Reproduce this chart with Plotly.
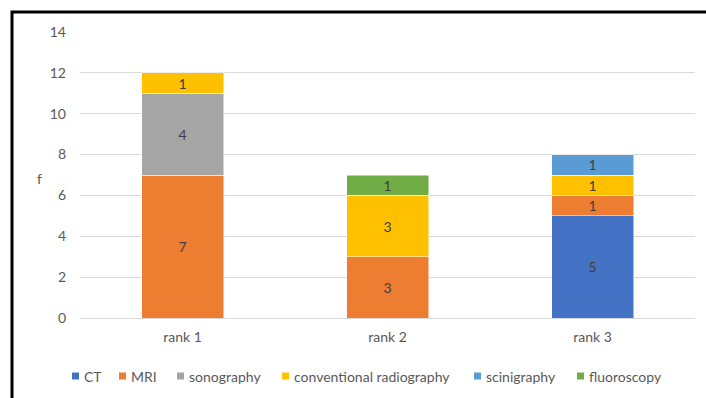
import plotly.graph_objects as go

# Ranking frequencies per imaging modality
ranks = ["rank 1", "rank 2", "rank 3"]
ct = [None, None, 5]
mri = [7, 3, 1]
sonography = [4, None, None]
conventional_radiography = [1, 3, 1]
scinigraphy = [None, None, 1]
fluoroscopy = [None, 1, None]

y_ticks = [0, 2, 4, 6, 8, 10, 12, 14]

series = [
    ("CT", ct, "#4472C4"),
    ("MRI", mri, "#ED7D31"),
    ("sonography", sonography, "#A5A5A5"),
    ("conventional radiography", conventional_radiography, "#FFC000"),
    ("scinigraphy", scinigraphy, "#5B9BD5"),
    ("fluoroscopy", fluoroscopy, "#70AD47"),
]

FONT = "Lato, 'Open Sans', sans-serif"
GREY = "#595959"
FS = 14

fig = go.Figure()
for name, vals, color in series:
    fig.add_trace(go.Bar(
        name=name,
        x=ranks,
        y=vals,
        marker=dict(color=color, line=dict(color="white", width=0.5)),
        text=[("" if v is None else str(v)) for v in vals],
        textposition="inside",
        insidetextanchor="middle",
        textangle=0,
        constraintext="none",
        textfont=dict(family=FONT, size=FS, color="#404040"),
        hoverinfo="skip",
        showlegend=False,
    ))

W, H = 706, 398
ml, mr, mt, mb = 80, 11, 32, 80
pw, ph = W - ml - mr, H - mt - mb


def px_x(x):
    return (x - ml) / pw


def px_y(y):
    return 1 - (y - mt) / ph


# Compact legend row below the axis: key square + label per series
legend_key_x = [72, 119, 177, 282, 474, 577]
legend_y = 376
shapes = []
annotations = []
for (name, _, color), kx in zip(series, legend_key_x):
    shapes.append(dict(
        type="rect", xref="paper", yref="paper",
        x0=px_x(kx), x1=px_x(kx + 7),
        y0=px_y(legend_y + 3.5), y1=px_y(legend_y - 3.5),
        line=dict(width=0), fillcolor=color,
    ))
    annotations.append(dict(
        text=name, xref="paper", yref="paper",
        x=px_x(kx + 10), y=px_y(legend_y),
        xanchor="left", yanchor="middle", showarrow=False,
        font=dict(family=FONT, size=FS, color=GREY),
    ))

# Axis label
annotations.append(dict(
    text="f", xref="paper", yref="paper",
    x=px_x(40), y=px_y(178),
    xanchor="center", yanchor="middle", showarrow=False,
    font=dict(family=FONT, size=FS, color=GREY),
))

# Frame around the whole chart
shapes.append(dict(
    type="rect", xref="paper", yref="paper",
    x0=px_x(12), x1=px_x(W + 10),
    y0=px_y(H + 10), y1=px_y(12),
    line=dict(color="black", width=3),
    fillcolor="rgba(0,0,0,0)",
    layer="above",
))

fig.update_layout(
    width=W,
    height=H,
    barmode="stack",
    bargap=0.6,
    plot_bgcolor="white",
    paper_bgcolor="white",
    margin=dict(l=ml, r=mr, t=mt, b=mb, pad=0, autoexpand=False),
    font=dict(family=FONT, size=FS, color=GREY),
    showlegend=False,
    xaxis=dict(
        showgrid=False,
        showline=True,
        linecolor="#D9D9D9",
        linewidth=1,
        ticks="",
        ticklabelstandoff=6,
        tickfont=dict(family=FONT, size=FS, color=GREY),
    ),
    yaxis=dict(
        range=[0, 14],
        tickvals=y_ticks,
        showgrid=True,
        gridcolor="#D9D9D9",
        gridwidth=1,
        zeroline=False,
        showline=False,
        ticks="",
        ticklabelstandoff=13,
        tickfont=dict(family=FONT, size=FS, color=GREY),
    ),
    shapes=shapes,
    annotations=annotations,
)

fig.write_html("out.html")
